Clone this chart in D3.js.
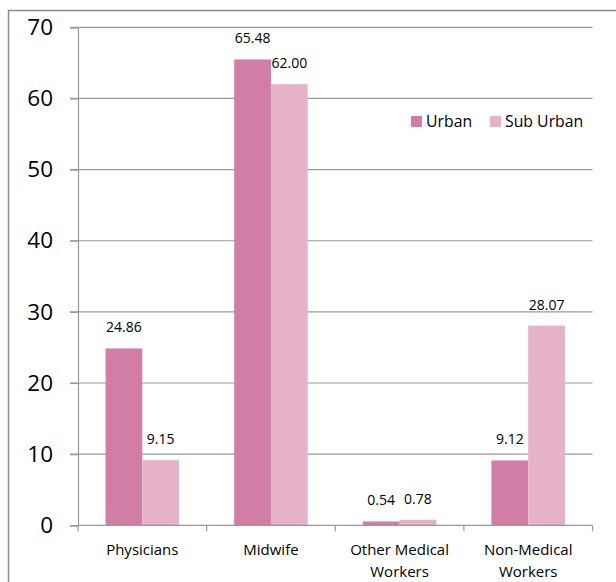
<!DOCTYPE html>
<html>
<head>
<meta charset="utf-8">
<script src="https://cdn.jsdelivr.net/npm/d3@7/dist/d3.min.js"></script>
<style>
  html, body { margin: 0; padding: 0; background: #fff; }
  svg { display: block; font-family: "Open Sans", "Noto Sans", sans-serif; }
</style>
</head>
<body>
<svg id="chart" width="616" height="582"></svg>
<script>
// Health worker shares by area
const categories = ["Physicians", "Midwife", "Other Medical Workers", "Non-Medical Workers"];
const categoryLines = [["Physicians"], ["Midwife"], ["Other Medical", "Workers"], ["Non-Medical", "Workers"]];
const seriesNames = ["Urban", "Sub Urban"];
const urban = [24.86, 65.48, 0.54, 9.12];
const subUrban = [9.15, 62.00, 0.78, 28.07];
const yTicks = [0, 10, 20, 30, 40, 50, 60, 70];
const colors = ["#D17DA5", "#E6B2C9"];

const svg = d3.select("#chart");
const W = 616, H = 582;
const plot = { left: 78, right: 592.5, top: 27.3, bottom: 525.3 };

// outer chart frame
svg.append("rect")
  .attr("x", 8.5).attr("y", 10.5)
  .attr("width", W + 10).attr("height", H + 10)
  .attr("fill", "none").attr("stroke", "#8c8c8c").attr("stroke-width", 1.5);

const x0 = d3.scaleBand().domain(categories).range([plot.left, plot.right]).paddingInner(0).paddingOuter(0);
const bw = x0.bandwidth() / 3.5;
const x1 = d3.scaleBand().domain(seriesNames).range([0, bw * 2]);
const y = d3.scaleLinear().domain([0, 70]).range([plot.bottom, plot.top]);

// horizontal gridlines
svg.append("g").selectAll("line").data(yTicks.filter(t => t > 0)).join("line")
  .attr("x1", plot.left - 8).attr("x2", plot.right)
  .attr("y1", d => y(d)).attr("y2", d => y(d))
  .attr("stroke", "#999").attr("stroke-width", 1.2);

// y axis
const yAxis = svg.append("g").attr("transform", `translate(${plot.left},0)`)
  .call(d3.axisLeft(y).tickValues(yTicks).tickSize(8).tickPadding(17).tickFormat(d3.format("d")));
yAxis.select(".domain").attr("stroke", "#999").attr("stroke-width", 1.2);
yAxis.selectAll(".tick line").attr("stroke", "#999").attr("stroke-width", 1.2);
yAxis.selectAll(".tick text").attr("font-size", 22.5).attr("fill", "#000")
  .attr("font-family", "'Open Sans', sans-serif");

// bars
const data = categories.map((c, i) => ({ c, vals: [urban[i], subUrban[i]] }));
const groups = svg.append("g").selectAll("g").data(data).join("g")
  .attr("transform", d => `translate(${x0(d.c) + bw * 0.75},0)`);

groups.selectAll("rect").data(d => d.vals.map((v, j) => ({ v, s: seriesNames[j], j }))).join("rect")
  .attr("x", d => x1(d.s)).attr("width", x1.bandwidth())
  .attr("y", d => y(d.v)).attr("height", d => y(0) - y(d.v))
  .attr("fill", d => colors[d.j]);

groups.selectAll("text").data(d => d.vals.map((v, j) => ({ v, s: seriesNames[j] }))).join("text")
  .attr("x", d => x1(d.s) + x1.bandwidth() / 2)
  .attr("y", d => y(d.v) - 16)
  .attr("text-anchor", "middle")
  .attr("font-size", 14).attr("fill", "#000")
  .text(d => d.v.toFixed(2));

// x axis line and boundary ticks
svg.append("line")
  .attr("x1", plot.left).attr("x2", plot.right)
  .attr("y1", plot.bottom).attr("y2", plot.bottom)
  .attr("stroke", "#999").attr("stroke-width", 1.2);
const bounds = categories.map(c => x0(c)).concat([plot.right]);
svg.append("g").selectAll("line").data(bounds).join("line")
  .attr("x1", d => d).attr("x2", d => d)
  .attr("y1", plot.bottom).attr("y2", plot.bottom + 6)
  .attr("stroke", "#999").attr("stroke-width", 1.2);

// category labels
const cl = svg.append("g").selectAll("text").data(categories).join("text")
  .attr("x", d => x0(d) + x0.bandwidth() / 2)
  .attr("y", 555)
  .attr("text-anchor", "middle")
  .attr("font-size", 15).attr("fill", "#000");
cl.selectAll("tspan").data((d, i) => categoryLines[i]).join("tspan")
  .attr("x", function () { return d3.select(this.parentNode).attr("x"); })
  .attr("dy", (d, i) => i === 0 ? 0 : 22)
  .text(d => d);

// legend
const legendX = [411, 490];
const lg = svg.append("g").selectAll("g").data(seriesNames).join("g")
  .attr("transform", (d, i) => `translate(${legendX[i]},116)`);
lg.append("rect").attr("width", 11).attr("height", 11).attr("fill", (d, i) => colors[i]);
lg.append("text").attr("x", 15).attr("y", 11)
  .attr("font-size", 15.8).attr("fill", "#000").text(d => d);
</script>
</body>
</html>
